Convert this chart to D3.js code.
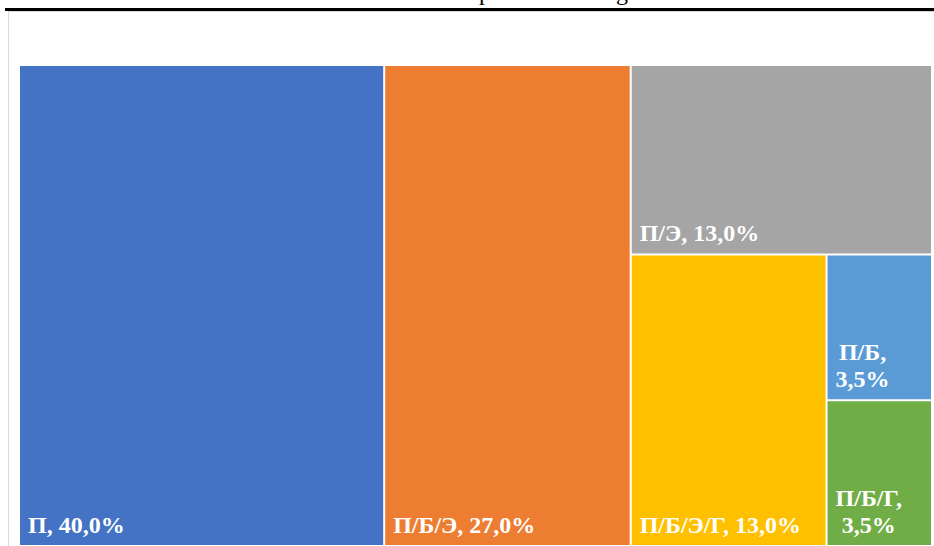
<!DOCTYPE html>
<html>
<head>
<meta charset="utf-8">
<script src="https://cdn.jsdelivr.net/npm/d3@7"></script>
<style>
  body { margin: 0; background: #fff; }
  svg { display: block; }
</style>
</head>
<body>
<div class="canvas"></div>
<script>
// treemap data (shares, %)
const names = ['П', 'П/Б/Э', 'П/Э', 'П/Б/Э/Г', 'П/Б', 'П/Б/Г'];
const shares = [40.0, 27.0, 13.0, 13.0, 3.5, 3.5];
const colours = ['#4472C4', '#ED7D31', '#A5A5A5', '#FFC000', '#5B9BD5', '#70AD47'];

const dims = { width: 934, height: 546 };
const area = { x: 20, y: 66, width: 911, height: 479 };

const svg = d3.select('.canvas')
  .append('svg')
  .attr('width', dims.width)
  .attr('height', dims.height);

// bits of the caption above, cut off by the page edge
svg.append('text')
  .attr('x', 479).attr('y', 0)
  .attr('font-family', 'Liberation Serif')
  .attr('font-size', 24)
  .text('р');
svg.append('text')
  .attr('x', 616).attr('y', 0)
  .attr('font-family', 'Liberation Serif')
  .attr('font-size', 24)
  .text('g');

// black rule + light chart frame
svg.append('rect')
  .attr('x', 5).attr('y', 8)
  .attr('width', dims.width).attr('height', 3)
  .attr('fill', '#000');
svg.append('rect')
  .attr('x', 8.5).attr('y', 11.5)
  .attr('width', dims.width).attr('height', dims.height)
  .attr('fill', 'none')
  .attr('stroke', '#d9d9d9');

const data = names.map((n, i) => ({ name: n, value: shares[i], colour: colours[i] }));

const root = d3.hierarchy({ children: data })
  .sum(d => d.value || 0)
  .sort((a, b) => b.value - a.value);

d3.treemap()
  .tile(d3.treemapSquarify.ratio(1))
  .size([area.width, area.height])
  .paddingInner(2)(root);

const graph = svg.append('g')
  .attr('transform', `translate(${area.x}, ${area.y})`);

const fmt = v => d3.format('.1f')(v).replace('.', ',') + '%';

const cells = graph.selectAll('g.cell')
  .data(root.leaves())
  .enter()
  .append('g')
    .attr('class', 'cell');

cells.append('rect')
  .attr('x', d => d.x0)
  .attr('y', d => d.y0)
  .attr('width', d => d.x1 - d.x0)
  .attr('height', d => d.y1 - d.y0)
  .attr('fill', d => d.data.colour);

const lineH = 27;

cells.each(function(d) {
  const g = d3.select(this);
  const full = `${d.data.name}, ${fmt(d.data.value)}`;
  const t = g.append('text')
    .attr('font-family', 'Liberation Serif, Times New Roman, serif')
    .attr('font-weight', 'bold')
    .attr('font-size', 24)
    .attr('fill', '#fff')
    .attr('x', d.x0 + 8)
    .attr('y', d.y1 - 12)
    .text(full);

  // too wide -> wrap onto two lines, centred in the text block
  if (t.node().getComputedTextLength() > d.x1 - d.x0 - 14) {
    t.text(null);
    const lines = [`${d.data.name},`, fmt(d.data.value)];
    const spans = lines.map((l, i) => t.append('tspan')
      .attr('y', d.y1 - 12 - (lines.length - 1 - i) * lineH)
      .text(l));
    const w = d3.max(spans, s => s.node().getComputedTextLength());
    spans.forEach(s => s.attr('x', d.x0 + 8 + w / 2).attr('text-anchor', 'middle'));
  }
});
</script>
</body>
</html>
